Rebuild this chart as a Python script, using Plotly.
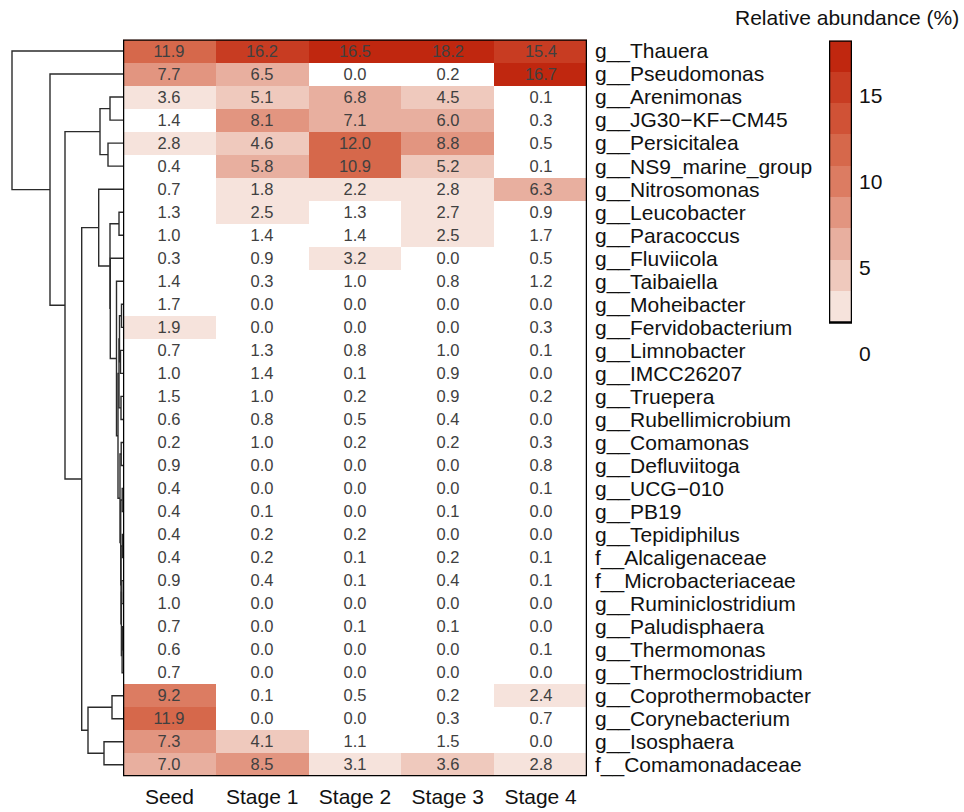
import plotly.graph_objects as go

# ---------------- data ----------------
stages = ["Seed", "Stage 1", "Stage 2", "Stage 3", "Stage 4"]
taxa = [
    "g__Thauera", "g__Pseudomonas", "g__Arenimonas", "g__JG30\u2212KF\u2212CM45",
    "g__Persicitalea", "g__NS9_marine_group", "g__Nitrosomonas", "g__Leucobacter",
    "g__Paracoccus", "g__Fluviicola", "g__Taibaiella", "g__Moheibacter",
    "g__Fervidobacterium", "g__Limnobacter", "g__IMCC26207", "g__Truepera",
    "g__Rubellimicrobium", "g__Comamonas", "g__Defluviitoga", "g__UCG\u2212010",
    "g__PB19", "g__Tepidiphilus", "f__Alcaligenaceae", "f__Microbacteriaceae",
    "g__Ruminiclostridium", "g__Paludisphaera", "g__Thermomonas", "g__Thermoclostridium",
    "g__Coprothermobacter", "g__Corynebacterium", "g__Isosphaera", "f__Comamonadaceae",
]
seed   = [11.9, 7.7, 3.58, 1.4, 2.8, 0.4, 0.7, 1.3, 1.0, 0.3, 1.4, 1.7, 1.9, 0.7, 1.0, 1.5,
          0.6, 0.2, 0.9, 0.4, 0.4, 0.4, 0.4, 0.9, 1.0, 0.7, 0.6, 0.7, 9.2, 11.9, 7.3, 7.0]
stage1 = [16.2, 6.5, 5.1, 8.1, 4.6, 5.8, 1.83, 2.5, 1.4, 0.9, 0.3, 0.0, 0.0, 1.3, 1.4, 1.0,
          0.8, 1.0, 0.0, 0.0, 0.1, 0.2, 0.2, 0.4, 0.0, 0.0, 0.0, 0.0, 0.1, 0.0, 4.1, 8.5]
stage2 = [16.5, 0.0, 6.8, 7.1, 12.0, 10.94, 2.2, 1.3, 1.4, 3.2, 1.0, 0.0, 0.0, 0.8, 0.1, 0.2,
          0.5, 0.2, 0.0, 0.0, 0.0, 0.2, 0.1, 0.1, 0.0, 0.1, 0.0, 0.0, 0.5, 0.0, 1.1, 3.1]
stage3 = [18.2, 0.2, 4.5, 6.0, 8.8, 5.2, 2.8, 2.7, 2.5, 0.0, 0.8, 0.0, 0.0, 1.0, 0.9, 0.9,
          0.4, 0.2, 0.0, 0.0, 0.1, 0.0, 0.2, 0.4, 0.0, 0.1, 0.0, 0.0, 0.2, 0.3, 1.5, 3.642]
stage4 = [15.4, 16.7, 0.1, 0.3, 0.5, 0.1, 6.3, 0.9, 1.7, 0.5, 1.2, 0.0, 0.3, 0.1, 0.0, 0.2,
          0.0, 0.3, 0.8, 0.1, 0.0, 0.0, 0.1, 0.1, 0.0, 0.0, 0.1, 0.0, 2.4, 0.7, 0.0, 2.8]

# binned colour palette (10 equal bins from 0 to max)
palette = ["#FFFFFF", "#F6E3DC", "#EFC9BD", "#E8AF9F", "#E29580",
           "#DC7C62", "#D6684B", "#D05236", "#C83C22", "#C0270F"]
z_max = 18.2
cbar_ticks = [0, 5, 10, 15]

# row dendrogram: (left, right, height); leaves 0..31, merged clusters 32..
linkage = [
    (7, 8, 4.0),      # 32
    (2, 3, 13.0),     # 33
    (4, 5, 15.0),     # 34
    (28, 29, 11.0),   # 35
    (30, 31, 19.0),   # 36
    (11, 12, 1.5),    # 37
    (13, 14, 2.5),    # 38
    (15, 16, 2.0),    # 39
    (37, 38, 3.5),    # 40
    (40, 39, 4.0),    # 41
    (17, 18, 1.8),    # 42
    (19, 20, 0.8),    # 43
    (21, 22, 0.6),    # 44
    (23, 24, 1.2),    # 45
    (25, 26, 0.5),    # 46
    (46, 27, 0.9),    # 47
    (45, 47, 1.6),    # 48
    (44, 48, 2.0),    # 49
    (43, 49, 2.3),    # 50
    (42, 50, 3.0),    # 51
    (41, 51, 5.0),    # 52
    (10, 52, 6.5),    # 53
    (9, 53, 12.7),    # 54
    (32, 54, 13.0),   # 55
    (6, 55, 24.3),    # 56
    (35, 36, 35.0),   # 57
    (56, 57, 41.3),   # 58
    (33, 34, 23.0),   # 59
    (59, 58, 58.0),   # 60
    (1, 60, 73.0),    # 61
    (0, 61, 111.0),   # 62
]

# ---------------- build ----------------
n_rows = len(taxa)
cols = [seed, stage1, stage2, stage3, stage4]
z = [[cols[j][i] for j in range(len(stages))] for i in range(n_rows)]
text = [[f"{v:.1f}" for v in row] for row in z]

nb = len(palette)
colorscale = []
for k, c in enumerate(palette):
    colorscale.append([k / nb, c])
    colorscale.append([(k + 1) / nb, c])

fig = go.Figure()

fig.add_trace(go.Heatmap(
    z=z, x=list(range(len(stages))), y=list(range(n_rows)),
    text=text, texttemplate="%{text}",
    textfont=dict(size=16.5, color="#404040", family="Liberation Sans, Arial"),
    colorscale=colorscale, zmin=0, zmax=z_max, showscale=False,
    hoverinfo="skip", xaxis="x", yaxis="y",
))

# dendrogram lines
pos = {i: float(i) for i in range(n_rows)}
hgt = {i: 0.0 for i in range(n_rows)}
dx, dy = [], []
for idx, (a, b, h) in enumerate(linkage):
    cid = n_rows + idx
    ya, yb = pos[a], pos[b]
    dx += [hgt[a], h, h, hgt[b], None]
    dy += [ya, ya, yb, yb, None]
    pos[cid] = (ya + yb) / 2
    hgt[cid] = h

fig.add_trace(go.Scatter(
    x=dx, y=dy, mode="lines", line=dict(color="#2b2b2b", width=1.4),
    xaxis="x2", yaxis="y", hoverinfo="skip", showlegend=False,
))

# custom colour bar (bins 2..10)
step = z_max / nb
cb_y = [step * (k + 0.5) for k in range(1, nb)]
fig.add_trace(go.Heatmap(
    z=[[v] for v in cb_y], x=[0], y=cb_y,
    colorscale=colorscale, zmin=0, zmax=z_max, showscale=False,
    hoverinfo="skip", xaxis="x3", yaxis="y3",
))

W, H = 964, 812
font_lab = dict(size=21, color="#111111", family="Liberation Sans, Arial")

fig.update_layout(
    width=W, height=H, margin=dict(l=0, r=0, t=0, b=0),
    paper_bgcolor="white", plot_bgcolor="white", showlegend=False,
    xaxis=dict(domain=[123 / W, 587 / W], range=[-0.5, len(stages) - 0.5],
               tickvals=list(range(len(stages))), ticktext=stages, ticks="",
               showgrid=False, zeroline=False, tickfont=font_lab, anchor="y",
               ticklabelstandoff=6),
    yaxis=dict(domain=[1 - 786 / H, 1 - 40 / H], range=[n_rows - 0.5, -0.5],
               tickvals=list(range(n_rows)), ticktext=taxa, side="right", ticks="",
               showgrid=False, zeroline=False, tickfont=font_lab, anchor="x",
               ticklabelstandoff=7),
    xaxis2=dict(domain=[0, 123 / W], range=[123, 0], visible=False, anchor="y"),
    xaxis3=dict(domain=[829 / W, 852 / W], range=[-0.5, 0.5], visible=False, anchor="y3"),
    yaxis3=dict(domain=[1 - 360 / H, 1 - 41 / H], range=[-0.1, z_max], side="right",
                tickvals=cbar_ticks, ticks="", showgrid=False, zeroline=False,
                tickfont=font_lab, anchor="x3", ticklabelstandoff=6),
    shapes=[
        dict(type="rect", xref="x", yref="y", x0=-0.5, x1=len(stages) - 0.5,
             y0=-0.5, y1=n_rows - 0.5, line=dict(color="black", width=2.5)),
        dict(type="rect", xref="x3", yref="y3", x0=-0.5, x1=0.5,
             y0=step, y1=z_max, line=dict(color="black", width=2.5)),
    ],
    annotations=[
        dict(text="Relative abundance (%)", x=847 / W, y=1 - 18 / H, xref="paper",
             yref="paper", showarrow=False, font=font_lab, xanchor="center",
             yanchor="middle"),
    ],
)

fig.write_html("out.html")
